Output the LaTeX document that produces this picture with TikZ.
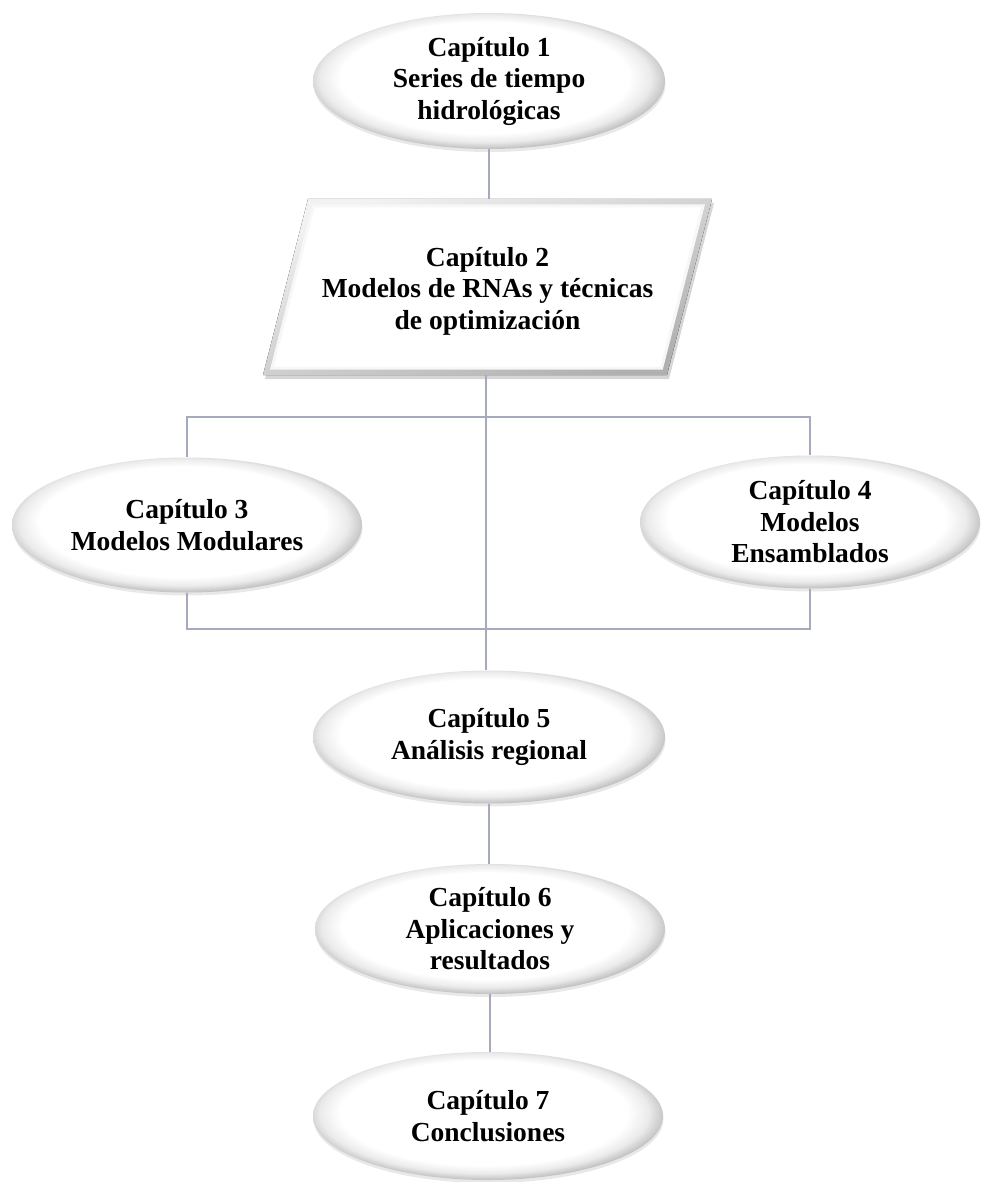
\documentclass[tikz,border=0pt]{standalone}
\usepackage{fontspec}
\setmainfont{Liberation Serif}
\usetikzlibrary{shapes.geometric,shadows}
\definecolor{conn}{RGB}{165,171,189}
\pgfdeclarelayer{bg}
\pgfsetlayers{bg,main}
\pgfdeclareradialshading{bevel}{\pgfpoint{-1.0bp}{2.0bp}}{color(0bp)=(white); color(20.5bp)=(white); color(23.5bp)=(gray!16); color(25.8bp)=(gray!48); color(28bp)=(gray!70); color(50bp)=(gray!70)}
\tikzset{
  chap/.style={ellipse, inner sep=0pt, shading=bevel, align=center,
    font=\fontsize{27.5}{31.5}\selectfont\bfseries,
    drop shadow={shadow xshift=0.5pt, shadow yshift=-3pt, opacity=0.18}},
  paratext/.style={rectangle, inner sep=0pt, align=center,
    font=\fontsize{27.5}{31.5}\selectfont\bfseries},
  bevelband/.style={top color=gray!10, bottom color=gray!62, shading angle=20},
  link/.style={draw=conn, line width=1.2pt}
}
\begin{document}
\begin{tikzpicture}[x=1pt,y=-1pt]
\useasboundingbox (0,0) rectangle (980,1182);
\node[chap, minimum width=352, minimum height=136] (c1) at (489,81) {Capítulo 1\\Series de tiempo\\hidrológicas};
\node[paratext, minimum width=404, minimum height=176] (c2) at (487.5,291) {Capítulo 2\\Modelos de RNAs y técnicas\\de optimización};
\begin{pgfonlayer}{bg}
  % soft shadow
  \fill[black, opacity=0.16] (265,379) -- (310,203) -- (714,203) -- (669,379) -- cycle;
  % bevel band
  \fill[bevelband] (263,375) -- (308,199) -- (712,199) -- (667,375) -- cycle;
  % white face
  \fill[white, draw=gray!6, line width=3pt] (272,368) -- (313.4,206) -- (703,206) -- (661.6,368) -- cycle;
\end{pgfonlayer}
\node[chap, minimum width=350, minimum height=135] (c3) at (187,525) {Capítulo 3\\Modelos Modulares};
\node[chap, minimum width=340, minimum height=133] (c4) at (810,522) {Capítulo 4\\Modelos\\Ensamblados};
\node[chap, minimum width=352, minimum height=133] (c5) at (489,737) {Capítulo 5\\Análisis regional};
\node[chap, minimum width=350, minimum height=130] (c6) at (490,929) {Capítulo 6\\Aplicaciones y\\resultados};
\node[chap, minimum width=350, minimum height=128] (c7) at (488,1116) {Capítulo 7\\Conclusiones};
\coordinate (top) at (486,417);
\coordinate (bot) at (486,629);
\coordinate (c2top) at (489,199);
\coordinate (c2bot) at (486,375);
\draw[link] (c1.south) -- (c1.south |- c2top);
\draw[link] (c2bot) -- (c2bot |- c5.north);
\draw[link] (c3.north) -- (c3.north |- top) -- (c4.north |- top) -- (c4.north);
\draw[link] (c3.south) -- (c3.south |- bot) -- (c4.south |- bot) -- (c4.south);
\draw[link] (c5.south) -- (c5.south |- c6.north);
\draw[link] (c6.south) -- (c6.south |- c7.north);
\end{tikzpicture}
\end{document}
